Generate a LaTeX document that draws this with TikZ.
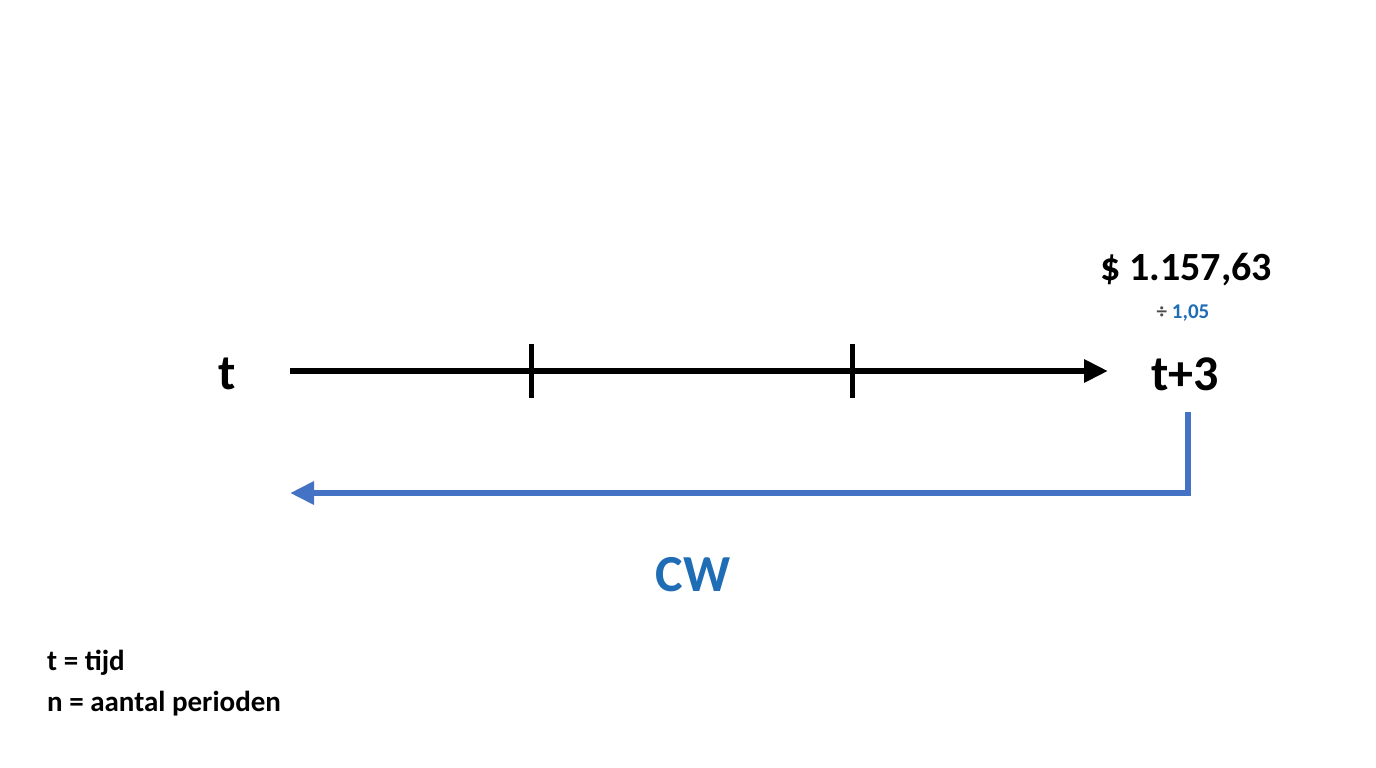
\documentclass[tikz,border=0pt]{standalone}
\usepackage{fontspec}
\setmainfont{Carlito}
\usetikzlibrary{arrows.meta}
\definecolor{cwblue}{HTML}{1F6DB5}
\definecolor{lineblue}{HTML}{4472C4}
\begin{document}
\begin{tikzpicture}[x=1pt,y=-1pt,
  lbl/.style={font=\bfseries, inner sep=0pt},
  axis/.style={line width=6pt, -{Triangle[length=24pt,width=22pt]}},
  tick/.style={line width=5pt},
  back/.style={line width=6pt, draw=lineblue, -{Triangle[length=24pt,width=22pt]}}]
\useasboundingbox (0,0) rectangle (1376,768);
\node[lbl, font=\fontsize{50}{60}\selectfont\bfseries] (t) at (227,374) {t};
\node[lbl, font=\fontsize{50}{60}\selectfont\bfseries] (t3) at (1185,374) {t+3};
\node[lbl, font=\fontsize{40}{48}\selectfont\bfseries] (amt) at (1186,270) {\$ 1.157,63};
\node[lbl, text=cwblue, font=\fontsize{21}{25}\selectfont\bfseries] (div) at (1183,313) {\textcolor{black!70}{÷} 1,05};
\coordinate (a0) at (290,371);
\coordinate (a1) at (1108,371);
\coordinate (k1a) at (531,344); \coordinate (k1b) at (531,398);
\coordinate (k2a) at (852,344); \coordinate (k2b) at (852,398);
\draw[axis] (a0) -- (a1);
\draw[tick] (k1a) -- (k1b);
\draw[tick] (k2a) -- (k2b);
\coordinate (b0) at (1188,412);
\coordinate (b1) at (1188,493);
\coordinate (b2) at (290,493);
\draw[back] (b0) -- (b1) -- (b2);
\node[lbl, text=cwblue, font=\fontsize{52}{62}\selectfont\bfseries] (cw) at (693,575) {CW};
\node[lbl, anchor=west, font=\fontsize{29}{35}\selectfont\bfseries] (l1) at (47,663) {t = tijd};
\node[lbl, anchor=west, font=\fontsize{29}{35}\selectfont\bfseries] (l2) at (47,704) {n = aantal perioden};
\end{tikzpicture}
\end{document}
